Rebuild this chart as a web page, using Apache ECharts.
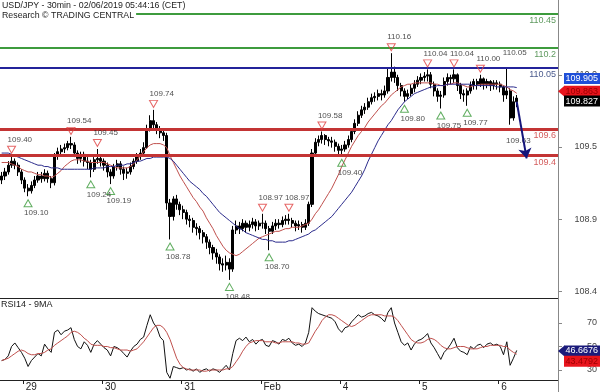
<!DOCTYPE html>
<html><head><meta charset="utf-8">
<script src="https://cdn.jsdelivr.net/npm/echarts@6/dist/echarts.min.js"></script>
<style>html,body{margin:0;padding:0;background:#fff}#c{width:600px;height:392px}</style>
</head><body><div id="c"></div>
<script>
// ---------- DATA ----------
// hourly bars [open, close, low, high]
const ohlc = [
[109.22,109.25,109.19,109.28],[109.25,109.28,109.22,109.31],[109.28,109.33,109.26,109.36],[109.33,109.36,109.31,109.40],[109.36,109.33,109.30,109.38],[109.33,109.28,109.25,109.35],[109.28,109.22,109.19,109.30],[109.22,109.16,109.13,109.24],[109.16,109.14,109.10,109.19],[109.14,109.18,109.12,109.21],
[109.18,109.22,109.16,109.25],[109.22,109.25,109.20,109.28],[109.25,109.23,109.20,109.28],[109.23,109.27,109.21,109.30],[109.27,109.23,109.20,109.29],[109.23,109.20,109.16,109.25],[109.20,109.40,109.18,109.42],[109.40,109.43,109.37,109.46],[109.43,109.45,109.40,109.48],[109.45,109.46,109.42,109.49],
[109.46,109.49,109.44,109.51],[109.49,109.48,109.45,109.54],[109.48,109.42,109.39,109.50],[109.42,109.38,109.34,109.44],[109.38,109.41,109.35,109.43],[109.41,109.36,109.32,109.43],[109.36,109.35,109.30,109.39],[109.35,109.30,109.24,109.37],[109.30,109.37,109.28,109.39],[109.37,109.38,109.34,109.45],
[109.38,109.36,109.32,109.40],[109.36,109.33,109.29,109.38],[109.33,109.28,109.24,109.35],[109.28,109.25,109.19,109.30],[109.25,109.32,109.23,109.34],[109.32,109.34,109.29,109.37],[109.34,109.30,109.26,109.36],[109.30,109.27,109.22,109.32],[109.27,109.28,109.23,109.31],[109.28,109.32,109.26,109.35],
[109.32,109.36,109.30,109.38],[109.36,109.40,109.34,109.42],[109.40,109.42,109.37,109.45],[109.42,109.46,109.40,109.50],[109.46,109.60,109.45,109.63],[109.60,109.66,109.58,109.70],[109.66,109.63,109.60,109.74],[109.63,109.60,109.56,109.65],[109.60,109.57,109.53,109.62],[109.57,109.55,109.51,109.59],
[109.55,109.05,109.00,109.57],[109.05,108.95,108.78,109.08],[108.95,109.08,108.92,109.10],[109.08,109.04,109.00,109.11],[109.04,109.00,108.96,109.06],[109.00,108.98,108.93,109.03],[108.98,108.93,108.89,109.00],[108.93,108.92,108.87,108.96],[108.92,108.87,108.83,108.94],[108.87,108.86,108.81,108.90],
[108.86,108.83,108.78,108.88],[108.83,108.80,108.75,108.85],[108.80,108.76,108.71,108.82],[108.76,108.72,108.67,108.78],[108.72,108.68,108.63,108.74],[108.68,108.65,108.60,108.71],[108.65,108.60,108.55,108.67],[108.60,108.59,108.54,108.64],[108.59,108.61,108.55,108.66],[108.61,108.56,108.48,108.64],
[108.56,108.85,108.54,108.88],[108.85,108.88,108.82,108.92],[108.88,108.86,108.82,108.91],[108.86,108.90,108.84,108.93],[108.90,108.87,108.83,108.92],[108.87,108.89,108.84,108.92],[108.89,108.91,108.86,108.94],[108.91,108.88,108.84,108.93],[108.88,108.90,108.85,108.92],[108.90,108.90,108.86,108.97],
[108.90,108.86,108.82,108.92],[108.86,108.84,108.70,108.88],[108.84,108.88,108.82,108.91],[108.88,108.90,108.85,108.93],[108.90,108.89,108.86,108.93],[108.89,108.92,108.87,108.95],[108.92,108.93,108.89,108.96],[108.93,108.92,108.89,108.97],[108.92,108.90,108.87,108.94],[108.90,108.88,108.84,108.92],
[108.88,108.89,108.85,108.92],[108.89,108.87,108.83,108.91],[108.87,108.90,108.85,108.93],[108.90,109.04,108.88,109.06],[109.04,109.42,109.02,109.45],[109.42,109.50,109.40,109.53],[109.50,109.52,109.47,109.55],[109.52,109.55,109.49,109.58],[109.55,109.52,109.48,109.56],[109.52,109.51,109.47,109.54],
[109.51,109.50,109.46,109.54],[109.50,109.47,109.43,109.52],[109.47,109.44,109.41,109.49],[109.44,109.45,109.40,109.48],[109.45,109.48,109.43,109.51],[109.48,109.52,109.46,109.55],[109.52,109.58,109.50,109.60],[109.58,109.64,109.56,109.67],[109.64,109.70,109.62,109.73],[109.70,109.74,109.68,109.77],
[109.74,109.76,109.71,109.79],[109.76,109.80,109.74,109.83],[109.80,109.83,109.78,109.86],[109.83,109.84,109.80,109.87],[109.84,109.86,109.81,109.89],[109.86,109.85,109.81,109.89],[109.85,109.88,109.83,109.92],[109.88,109.98,109.86,110.05],[109.98,110.02,109.95,110.16],[110.02,109.98,109.94,110.06],
[109.98,109.92,109.88,110.00],[109.92,109.88,109.84,109.94],[109.88,109.84,109.80,109.90],[109.84,109.86,109.82,109.89],[109.86,109.90,109.84,109.93],[109.90,109.93,109.87,109.96],[109.93,109.96,109.91,109.99],[109.96,109.98,109.93,110.01],[109.98,109.99,109.95,110.02],[109.99,110.00,109.95,110.04],
[110.00,109.93,109.90,110.02],[109.93,109.88,109.84,109.95],[109.88,109.84,109.80,109.90],[109.84,109.85,109.75,109.88],[109.85,109.95,109.83,109.98],[109.95,109.98,109.92,110.01],[109.98,109.97,109.93,110.00],[109.97,110.00,109.94,110.04],[110.00,109.92,109.88,110.01],[109.92,109.86,109.82,109.94],
[109.86,109.85,109.80,109.89],[109.85,109.88,109.77,109.90],[109.88,109.92,109.86,109.95],[109.92,109.95,109.89,109.97],[109.95,109.93,109.89,109.97],[109.93,109.97,109.91,110.00],[109.97,109.93,109.89,109.98],[109.93,109.95,109.90,109.97],[109.95,109.92,109.88,109.96],[109.92,109.94,109.89,109.96],
[109.94,109.93,109.89,109.96],[109.93,109.91,109.87,109.95],[109.91,109.85,109.80,109.92],[109.85,109.88,109.82,110.05],[109.88,109.68,109.63,109.90],[109.68,109.80,109.66,109.84],[109.80,109.827,109.76,109.85]
];
const maFast = [
109.35,109.35,109.35,109.34,109.33,109.32,109.30,109.29,109.28,109.28,
109.27,109.26,109.26,109.25,109.25,109.24,109.25,109.27,109.29,109.32,
109.34,109.36,109.37,109.37,109.37,109.36,109.36,109.35,109.35,109.35,
109.35,109.35,109.34,109.33,109.32,109.31,109.31,109.31,109.31,109.32,
109.34,109.37,109.40,109.43,109.46,109.48,109.49,109.49,109.49,109.48,
109.46,109.40,109.35,109.30,109.25,109.21,109.17,109.13,109.09,109.06,
109.02,108.99,108.94,108.90,108.86,108.81,108.77,108.73,108.70,108.68,
108.67,108.66,108.67,108.69,108.71,108.73,108.75,108.77,108.79,108.80,
108.81,108.82,108.83,108.84,108.84,108.85,108.86,108.86,108.87,108.87,
108.87,108.88,108.89,108.90,108.93,108.97,109.00,109.04,109.08,109.12,
109.16,109.21,109.26,109.32,109.37,109.42,109.47,109.51,109.55,109.58,
109.61,109.65,109.68,109.71,109.74,109.77,109.79,109.82,109.85,109.87,
109.89,109.91,109.92,109.93,109.93,109.94,109.94,109.94,109.94,109.94,
109.94,109.93,109.93,109.92,109.92,109.93,109.93,109.94,109.94,109.93,
109.92,109.91,109.91,109.92,109.92,109.93,109.93,109.93,109.93,109.93,
109.93,109.93,109.92,109.91,109.89,109.88,109.863
];
const maSlow = [
109.42,109.42,109.42,109.41,109.40,109.39,109.38,109.37,109.36,109.35,
109.34,109.33,109.33,109.32,109.32,109.31,109.31,109.31,109.30,109.30,
109.30,109.30,109.30,109.30,109.30,109.30,109.30,109.30,109.31,109.31,
109.31,109.31,109.32,109.32,109.32,109.33,109.33,109.33,109.34,109.34,
109.35,109.36,109.36,109.37,109.38,109.38,109.39,109.39,109.39,109.39,
109.39,109.38,109.36,109.33,109.30,109.27,109.24,109.21,109.19,109.17,
109.15,109.12,109.10,109.07,109.04,109.01,108.98,108.96,108.94,108.92,
108.90,108.88,108.86,108.85,108.83,108.82,108.81,108.80,108.79,108.78,
108.78,108.77,108.77,108.76,108.76,108.76,108.76,108.77,108.77,108.78,
108.79,108.80,108.81,108.82,108.84,108.85,108.87,108.89,108.91,108.93,
108.95,108.98,109.01,109.04,109.07,109.10,109.13,109.17,109.21,109.25,
109.30,109.36,109.41,109.46,109.51,109.55,109.59,109.63,109.66,109.70,
109.74,109.77,109.80,109.82,109.84,109.86,109.87,109.88,109.89,109.90,
109.91,109.91,109.92,109.92,109.92,109.93,109.93,109.93,109.93,109.93,
109.93,109.93,109.93,109.92,109.92,109.92,109.92,109.92,109.92,109.92,
109.91,109.91,109.91,109.91,109.91,109.91,109.905
];
const rsi = [
38,39,42,50,53,49,45,40,33,38,
41,44,42,52,48,45,62,64,60,63,
64,66,56,50,48,54,51,45,52,55,
52,49,47,42,50,49,47,44,41,46,
50,52,56,58,68,77,70,66,58,55,
28,23,33,32,31,32,30,31,29,31,
28,30,31,29,31,30,28,31,34,30,
44,55,57,55,58,54,56,52,55,56,
51,50,55,54,52,56,55,57,53,51,
52,50,53,62,83,80,78,77,76,75,
74,71,65,62,66,67,71,74,77,75,
76,78,79,77,76,74,71,79,83,70,
62,54,51,53,47,52,55,56,58,61,
53,49,44,39,45,48,52,57,49,46,
45,43,50,48,51,52,49,52,53,51,
52,50,43,54,34,40,46.6676
];
const rsiMa = [
38,39,40,42,44,46,47,46,44,43,
43,44,44,45,47,48,51,53,55,57,
59,62,63,62,60,57,55,52,51,51,
51,50,50,49,49,48,47,47,47,46,
47,48,51,54,58,62,66,68,68,66,
62,56,48,40,35,32,31,30,30,30,
30,29,29,30,30,30,30,30,31,31,
33,37,41,46,50,53,54,55,55,55,
54,54,54,53,53,54,54,54,54,53,
53,52,52,53,58,63,67,72,75,77,
77,76,74,72,70,68,67,68,70,72,
74,76,77,77,77,77,76,76,76,75,
72,68,64,60,56,54,53,53,54,56,
57,56,54,51,49,48,48,49,50,50,
50,49,48,48,48,49,50,50,51,51,
51,51,50,50,47,45,43.4792
];
const categoryCount = 169;
const dayStartIndex = [7, 31, 55, 79, 103, 127, 151];
const dayLabels = ['29', '30', '31', 'Feb', '4', '5', '6'];
const levelValues = [110.45, 110.2, 110.05, 109.6, 109.4];
const levelLabels = ['110.45', '110.2', '110.05', '109.6', '109.4'];
const highIdx = [3, 21, 29, 46, 79, 87, 97, 118, 129, 137, 145];
const highVal = [109.40, 109.54, 109.45, 109.74, 108.97, 108.97, 109.58, 110.16, 110.04, 110.04, 110.00];
const lowIdx = [8, 27, 33, 51, 69, 81, 103, 122, 133, 141];
const lowVal = [109.10, 109.24, 109.19, 108.78, 108.48, 108.70, 109.40, 109.80, 109.75, 109.77];
const tagHighIdx = [153], tagHighVal = [110.05];
const tagLowIdx = [154], tagLowVal = [109.63];
const forecastIdx = [156, 159];
const forecastVal = [109.80, 109.38];
const priceTicks = [108.395, 108.93, 109.465, 110.0];
const priceTickLabels = ['108.4', '108.9', '109.5', '110.0'];
const rsiTicks = [30, 50, 70];
const rsiTickLabels = ['30', '50', '70'];

// ---------- CHART ----------
const FONT = 'Liberation Sans, Arial, sans-serif';
const categories = [];
for (let i = 0; i < categoryCount; i++) categories.push('b' + i);
const dayLabelAt = {};
dayStartIndex.forEach((k, j) => { dayLabelAt[k] = dayLabels[j]; });
const isDayStart = (i) => dayLabelAt[i] !== undefined;
const tickLabel = (vals, labs) => (v) => { for (let j = 0; j < vals.length; j++) if (Math.abs(vals[j] - v) < 1e-6) return labs[j]; return ''; };

const levelLineColor = ['#3d9b3d', '#3d9b3d', '#23239a', '#c33434', '#c33434'];
const levelTextColor = ['#5f9a5f', '#5f9a5f', '#4a5a8c', '#d45c5c', '#d45c5c'];
const levelWidth = [2, 2, 2, 3, 3];

const chart = echarts.init(document.getElementById('c'));
const markerLabel = (pos) => ({ show: true, position: pos, distance: 2, align: 'left', offset: [-4, 0],
  formatter: p => p.value[1].toFixed(2), fontSize: 8, color: '#222', fontFamily: FONT });

chart.setOption({
  animation: false,
  backgroundColor: '#fff',
  textStyle: { fontFamily: FONT },
  title: [
    { text: 'USD/JPY - 30min - 02/06/2019 05:44:16 (CET)', left: 1, top: 1, padding: [0, 1, 0, 1], backgroundColor: '#fff',
      textStyle: { fontSize: 8.8, fontWeight: 'normal', color: '#222', fontFamily: FONT, lineHeight: 10 } },
    { text: 'Research © TRADING CENTRAL', left: 0, top: 11, padding: [0, 2, 0, 2], backgroundColor: '#fff',
      textStyle: { fontSize: 8.8, fontWeight: 'normal', color: '#222', fontFamily: FONT, lineHeight: 10 } },
    { text: 'RSI14 - 9MA', left: 1, top: 300, padding: 0,
      textStyle: { fontSize: 9, fontWeight: 'normal', color: '#222', fontFamily: FONT, lineHeight: 10 } }
  ],
  grid: [
    { left: 0, right: 42, top: 0, height: 298 },
    { left: 0, right: 42, top: 299, height: 81 }
  ],
  xAxis: [
    { type: 'category', gridIndex: 0, data: categories, boundaryGap: true,
      axisLine: { show: true, lineStyle: { color: '#222', width: 1 } }, axisTick: { show: false }, axisLabel: { show: false }, splitLine: { show: false } },
    { type: 'category', gridIndex: 1, data: categories, boundaryGap: true,
      axisLine: { show: true, lineStyle: { color: '#222', width: 1 } },
      axisTick: { show: true, interval: (i) => isDayStart(i), length: 4, lineStyle: { color: '#222' } },
      axisLabel: { interval: (i) => isDayStart(i), formatter: (v, i) => dayLabelAt[i] || '', align: 'left', margin: 2,
        padding: [0, 0, 0, 1], fontSize: 10, color: '#222', fontFamily: FONT },
      splitLine: { show: false } }
  ],
  yAxis: [
    { type: 'value', gridIndex: 0, position: 'right', min: 108.346, max: 110.554,
      splitLine: { show: false }, axisLine: { show: true, lineStyle: { color: '#888' } },
      axisTick: { show: true, length: 4, customValues: priceTicks, lineStyle: { color: '#888' } },
      axisLabel: { customValues: priceTicks, formatter: tickLabel(priceTicks, priceTickLabels), align: 'right', margin: 39, fontSize: 9, color: '#444', fontFamily: FONT } },
    { type: 'value', gridIndex: 1, position: 'right', min: 21.5, max: 90.4,
      splitLine: { show: false }, axisLine: { show: true, lineStyle: { color: '#888' } },
      axisTick: { show: true, length: 4, customValues: rsiTicks, lineStyle: { color: '#888' } },
      axisLabel: { customValues: rsiTicks, formatter: tickLabel(rsiTicks, rsiTickLabels), align: 'right', margin: 39, fontSize: 9, color: '#444', fontFamily: FONT } }
  ],
  series: [
    { type: 'candlestick', name: 'USD/JPY', xAxisIndex: 0, yAxisIndex: 0, data: ohlc, barWidth: 2.6,
      itemStyle: { color: '#000', color0: '#000', borderColor: '#000', borderColor0: '#000', borderWidth: 1 },
      markLine: { silent: true, symbol: 'none', animation: false,
        data: levelValues.map((v, j) => ({ yAxis: v,
          lineStyle: { color: levelLineColor[j], width: levelWidth[j], type: 'solid' },
          label: { show: true, formatter: levelLabels[j], position: 'insideEndBottom', distance: 2, color: levelTextColor[j], fontSize: 9, fontFamily: FONT } }))
          .concat([[
            { coord: [forecastIdx[0], forecastVal[0]], symbol: 'none', lineStyle: { color: '#15157a', width: 2, type: 'solid' }, label: { show: false } },
            { coord: [forecastIdx[1], forecastVal[1]], symbol: 'arrow', symbolSize: 10 }
          ]])
      } },
    { type: 'line', name: 'MA fast', xAxisIndex: 0, yAxisIndex: 0, data: maFast, showSymbol: false, symbol: 'none',
      lineStyle: { color: '#c0504d', width: 1 }, z: 3 },
    { type: 'line', name: 'MA slow', xAxisIndex: 0, yAxisIndex: 0, data: maSlow, showSymbol: false, symbol: 'none',
      lineStyle: { color: '#2b2b8c', width: 1 }, z: 3 },
    { type: 'scatter', name: 'highs', xAxisIndex: 0, yAxisIndex: 0, data: highIdx.map((k, j) => [k, highVal[j]]),
      symbol: 'path://M0,0L10,0L5,9Z', symbolSize: [8, 7], symbolOffset: [0, -6],
      itemStyle: { color: 'rgba(255,255,255,0)', borderColor: '#e04040', borderWidth: 1 }, label: markerLabel('top'), z: 5 },
    { type: 'scatter', name: 'lows', xAxisIndex: 0, yAxisIndex: 0, data: lowIdx.map((k, j) => [k, lowVal[j]]),
      symbol: 'triangle', symbolSize: [8, 7], symbolOffset: [0, 7],
      itemStyle: { color: 'rgba(255,255,255,0)', borderColor: '#3a9a3a', borderWidth: 1 }, label: markerLabel('bottom'), z: 5 },
    { type: 'scatter', name: 'tagHigh', xAxisIndex: 0, yAxisIndex: 0, data: tagHighIdx.map((k, j) => [k, tagHighVal[j]]),
      symbol: 'rect', symbolSize: [8, 7], symbolOffset: [0, -6],
      itemStyle: { color: 'rgba(0,0,0,0)' }, label: markerLabel('top'), z: 5 },
    { type: 'scatter', name: 'tagLow', xAxisIndex: 0, yAxisIndex: 0, data: tagLowIdx.map((k, j) => [k, tagLowVal[j]]),
      symbol: 'rect', symbolSize: [8, 7], symbolOffset: [0, 7],
      itemStyle: { color: 'rgba(0,0,0,0)' }, label: markerLabel('bottom'), z: 4 },
    { type: 'line', name: 'RSI14', xAxisIndex: 1, yAxisIndex: 1, data: rsi, showSymbol: false, symbol: 'none',
      lineStyle: { color: '#111', width: 1 } },
    { type: 'line', name: '9MA', xAxisIndex: 1, yAxisIndex: 1, data: rsiMa, showSymbol: false, symbol: 'none',
      lineStyle: { color: '#c0504d', width: 1 } }
  ]
});

// value boxes on the right axis
const lastClose = ohlc[ohlc.length - 1][1];
const lastFast = maFast[maFast.length - 1];
const lastSlow = maSlow[maSlow.length - 1];
const lastRsi = rsi[rsi.length - 1];
const lastRsiMa = rsiMa[rsiMa.length - 1];
const yMain = v => chart.convertToPixel({ yAxisIndex: 0 }, v);
const yRsi = v => chart.convertToPixel({ yAxisIndex: 1 }, v);
const els = [{ type: 'line', shape: { x1: 558.5, y1: 0, x2: 558.5, y2: 392 }, style: { stroke: '#888', lineWidth: 1 }, z: 50 }];
function box(y, text, bg, fg, arrow) {
  const h = 11, x0 = 564, x1 = 600;
  els.push({ type: 'rect', shape: { x: x0, y: y - h / 2, width: x1 - x0, height: h }, style: { fill: bg }, z: 100 });
  if (arrow) els.push({ type: 'polygon', shape: { points: [[558, y], [x0 + 0.5, y - h / 2], [x0 + 0.5, y + h / 2]] }, style: { fill: bg }, z: 100 });
  els.push({ type: 'text', x: 598, y: y, style: { text: text, fill: fg, fontSize: 9, fontFamily: FONT, align: 'right', verticalAlign: 'middle' }, z: 101 });
}
box(yMain(lastSlow) - 9, lastSlow.toFixed(3), '#1f4fd8', '#fff', false);
box(yMain(lastFast) - 2, lastFast.toFixed(3), '#e8141c', '#9a0000', true);
box(yMain(lastClose) + 3, lastClose.toFixed(3), '#000', '#fff', false);
box(yRsi(lastRsi) + 0.5, lastRsi.toFixed(4), '#1a1a7a', '#fff', true);
box(yRsi(lastRsiMa) + 7, lastRsiMa.toFixed(4), '#e8141c', '#9a0000', false);
chart.setOption({ graphic: els });
</script>
</body></html>
